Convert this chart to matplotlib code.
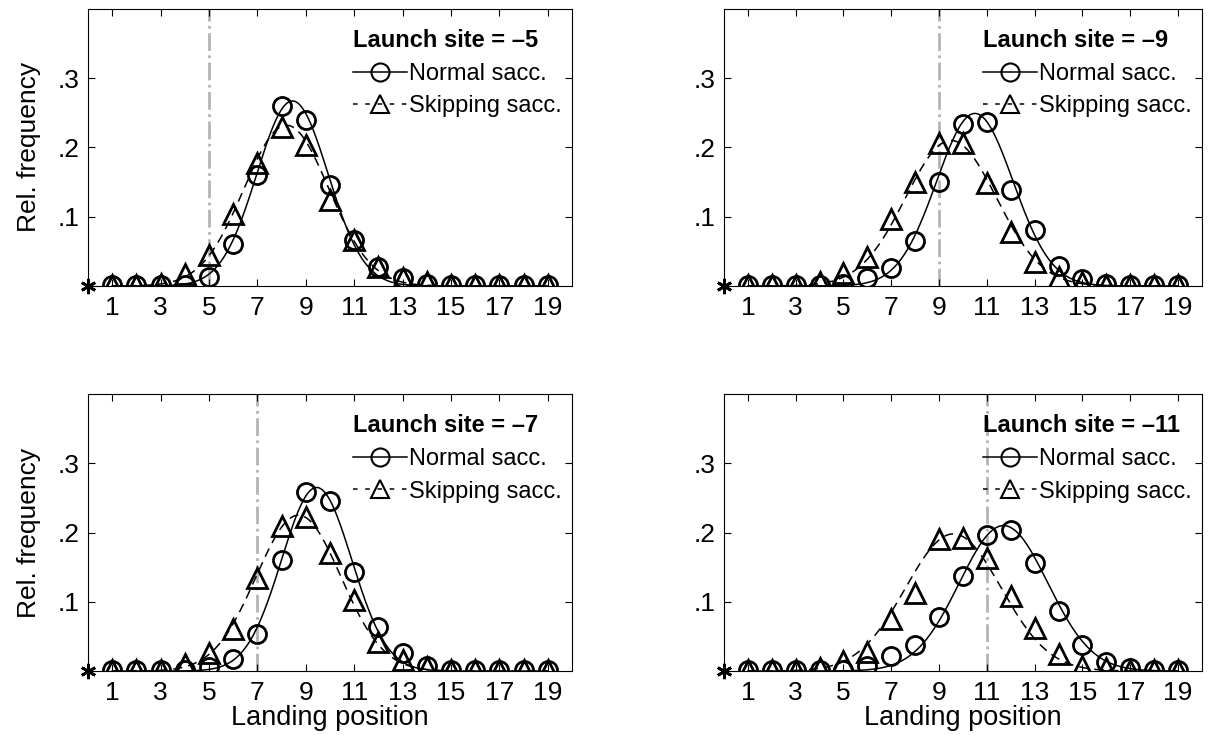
import numpy as np
import matplotlib.pyplot as plt
from matplotlib.lines import Line2D

positions = list(range(1, 20))

launch_sites = [-5, -9, -7, -11]

normal_freq = [
    [0.002, 0.002, 0.002, 0.002, 0.013, 0.060, 0.160, 0.259, 0.239, 0.146,
     0.066, 0.027, 0.011, 0.003, 0.001, 0.001, 0.001, 0.001, 0.001],
    [0.001, 0.001, 0.001, 0.001, 0.003, 0.011, 0.026, 0.065, 0.150, 0.234,
     0.237, 0.139, 0.080, 0.029, 0.010, 0.003, 0.001, 0.001, 0.001],
    [0.001, 0.001, 0.001, 0.001, 0.006, 0.017, 0.054, 0.160, 0.259, 0.246,
     0.143, 0.064, 0.026, 0.007, 0.002, 0.002, 0.002, 0.002, 0.002],
    [0.001, 0.001, 0.001, 0.001, 0.002, 0.008, 0.022, 0.038, 0.078, 0.137,
     0.196, 0.204, 0.156, 0.087, 0.037, 0.013, 0.004, 0.001, 0.001],
]

skip_freq = [
    [0.002, 0.002, 0.003, 0.017, 0.045, 0.104, 0.178, 0.230, 0.203, 0.124,
     0.066, 0.028, 0.012, 0.005, 0.002, 0.002, 0.002, 0.002, 0.002],
    [0.002, 0.002, 0.002, 0.006, 0.018, 0.042, 0.096, 0.150, 0.206, 0.206,
     0.148, 0.078, 0.035, 0.013, 0.005, 0.002, 0.002, 0.002, 0.002],
    [0.002, 0.002, 0.002, 0.010, 0.026, 0.060, 0.134, 0.209, 0.223, 0.171,
     0.103, 0.042, 0.016, 0.006, 0.002, 0.002, 0.002, 0.002, 0.002],
    [0.002, 0.002, 0.002, 0.005, 0.015, 0.028, 0.075, 0.113, 0.190, 0.192,
     0.163, 0.108, 0.062, 0.025, 0.008, 0.004, 0.001, 0.001, 0.001],
]

# fitted gaussian curves (peak, centre, sd)
normal_fit = [(0.267, 8.45, 1.47), (0.249, 10.5, 1.60),
              (0.265, 9.45, 1.45), (0.210, 11.7, 1.85)]
skip_fit = [(0.232, 8.2, 1.75), (0.210, 9.5, 1.90),
            (0.225, 8.7, 1.75), (0.198, 9.6, 2.00)]

plt.rcParams.update({
    "font.family": ["Liberation Sans", "DejaVu Sans"],
    "font.size": 17,
    "xtick.labelsize": 19,
    "ytick.labelsize": 19,
    "axes.linewidth": 0.8,
    "xtick.direction": "in",
    "ytick.direction": "in",
    "xtick.top": True,
    "ytick.right": True,
    "xtick.major.size": 5,
    "ytick.major.size": 5,
    "xtick.major.width": 0.8,
    "ytick.major.width": 0.8,
    "xtick.major.pad": 7,
    "ytick.major.pad": 6,
})

fig = plt.figure(figsize=(12.1, 7.35), dpi=100)
boxes = [
    [0.0727, 0.611, 0.400, 0.377],
    [0.5983, 0.611, 0.395, 0.377],
    [0.0727, 0.087, 0.400, 0.377],
    [0.5983, 0.087, 0.395, 0.377],
]

gauss = lambda x, a, m, s: a * np.exp(-(x - m) ** 2 / (2 * s ** 2))
xs = np.linspace(1, 19, 400)

for i, box in enumerate(boxes):
    ax = fig.add_axes(box)
    site = launch_sites[i]

    ax.axvline(-site, color="#b4b4b4", linestyle="-.", linewidth=2, zorder=1)

    ax.plot(xs, gauss(xs, *normal_fit[i]), color="black", linewidth=1.1, zorder=2)
    ax.plot(xs, gauss(xs, *skip_fit[i]), color="black", linewidth=1.1,
            linestyle=(0, (6, 4)), zorder=2)

    ax.plot(positions, normal_freq[i], linestyle="none", marker="o",
            markersize=13, markerfacecolor="none", markeredgecolor="black",
            markeredgewidth=2, zorder=3)
    ax.plot(positions, skip_freq[i], linestyle="none", marker="^",
            markersize=14, markerfacecolor="none", markeredgecolor="black",
            markeredgewidth=2, zorder=3)

    ax.plot([0], [0], linestyle="none", marker=(6, 2, 0), markersize=11,
            markeredgewidth=2, color="black", clip_on=False, zorder=4)

    ax.set_xlim(0, 20)
    ax.set_ylim(0, 0.4)
    ax.set_xticks(range(1, 20, 2))
    ax.set_yticks([0.1, 0.2, 0.3])
    ax.set_yticklabels([".1", ".2", ".3"])

    handles = [
        Line2D([], [], color="black", linewidth=1.1, marker="o", markersize=13,
               markerfacecolor="none", markeredgewidth=1.5),
        Line2D([], [], color="black", linewidth=1.1, linestyle=(0, (3, 5)),
               marker="^", markersize=13, markerfacecolor="none",
               markeredgewidth=1.5),
    ]
    ax.legend(handles, ["Normal sacc.", "Skipping sacc."],
              title="Launch site = \u2013%d" % abs(site),
              loc="upper right", bbox_to_anchor=(1.0, 0.965),
              frameon=False, handlelength=2.3,
              handletextpad=0.05, borderaxespad=0.0, borderpad=0.45,
              labelspacing=0.45, alignment="left",
              title_fontproperties={"weight": "bold", "size": 17})

    if i in (0, 2):
        ax.set_ylabel("Rel. frequency", fontsize=19, labelpad=12)
    if i in (2, 3):
        ax.set_xlabel("Landing position", fontsize=19.5, labelpad=0)

fig.savefig("out.png", dpi=100)
